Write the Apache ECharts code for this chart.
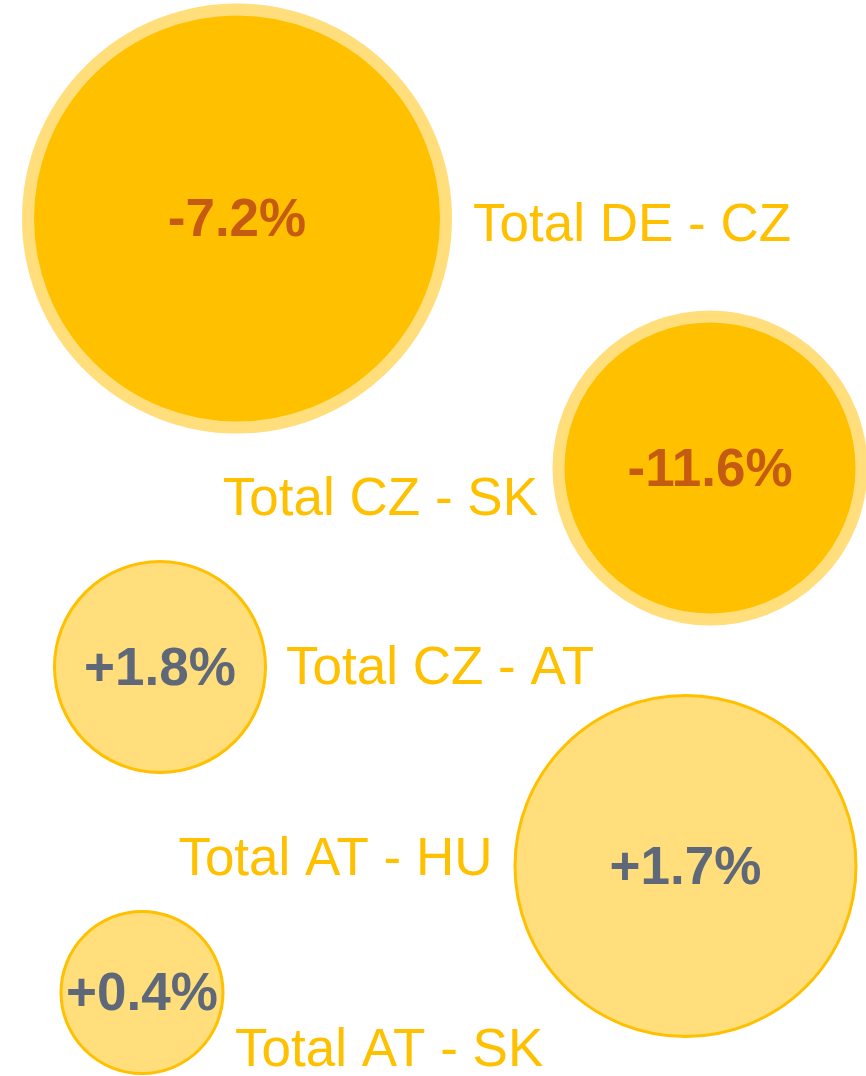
<!DOCTYPE html>
<html>
<head>
<meta charset="utf-8">
<style>
  html, body { margin: 0; padding: 0; background: #fff; }
  #chart { width: 866px; height: 1076px; }
</style>
<script src="https://cdn.jsdelivr.net/npm/echarts@6/dist/echarts.min.js"></script>
</head>
<body>
<div id="chart"></div>
<script>
// route totals and their change
const routes = ['Total DE - CZ', 'Total CZ - SK', 'Total CZ - AT', 'Total AT - HU', 'Total AT - SK'];
const changes = [-7.2, -11.6, 1.8, 1.7, 0.4];
// bubble centres on the chart plane, and outer diameter
const posX = [237, 710, 160, 685.5, 142];
const posY = [218.5, 468, 667, 866, 992.5];
const bubbleDiameter = [430, 315, 214, 344, 165];

// where each route name sits relative to its bubble centre
const nameAlign = ['left', 'right', 'left', 'right', 'left'];
const nameOffset = [[236, 8], [-172, 32], [126, 2], [-193, -6], [93, 59]];

const GOLD = '#FFC000';
const GOLD_LIGHT = '#FFDE7B';
const FONT = '"Liberation Sans", Arial, sans-serif';

function fmtChange(v) {
    return (v > 0 ? '+' : '') + v.toFixed(1) + '%';
}

function bubbleStyle(change) {
    if (change < 0) {
        return { color: GOLD, borderColor: GOLD_LIGHT, borderWidth: 12, opacity: 1 };
    }
    return { color: GOLD_LIGHT, borderColor: GOLD, borderWidth: 3, opacity: 1 };
}

const bubbles = routes.map((name, i) => {
    const style = bubbleStyle(changes[i]);
    return {
        name,
        value: [posX[i], posY[i], changes[i]],
        symbolSize: bubbleDiameter[i] - style.borderWidth,
        itemStyle: style,
        label: {
            color: changes[i] < 0 ? '#C55A11' : '#5E6879',
        },
    };
});

const names = routes.map((name, i) => ({
    name,
    value: [posX[i], posY[i]],
    label: {
        align: nameAlign[i],
        offset: nameOffset[i],
    },
}));

const chart = echarts.init(document.getElementById('chart'), null, { renderer: 'canvas' });

chart.setOption({
    animation: false,
    backgroundColor: '#fff',
    grid: { left: 0, right: 0, top: 0, bottom: 0 },
    xAxis: { type: 'value', min: 0, max: 866, show: false },
    yAxis: { type: 'value', min: 0, max: 1076, inverse: true, show: false },
    series: [
        {
            type: 'scatter',
            clip: false,
            symbol: 'circle',
            data: bubbles,
            label: {
                show: true,
                position: 'inside',
                offset: [0, 3],
                formatter: (p) => fmtChange(p.value[2]),
                fontFamily: FONT,
                fontWeight: 'bold',
                fontSize: 53,
            },
            emphasis: { disabled: true },
        },
        {
            type: 'scatter',
            clip: false,
            symbolSize: 2,
            itemStyle: { color: 'rgba(0,0,0,0)', opacity: 1 },
            data: names,
            label: {
                show: true,
                position: 'inside',
                formatter: '{b}',
                color: GOLD,
                fontFamily: FONT,
                fontSize: 53,
            },
            emphasis: { disabled: true },
        },
    ],
});
</script>
</body>
</html>
